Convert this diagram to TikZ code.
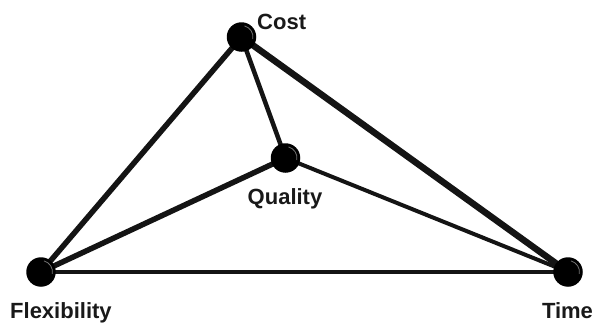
\documentclass[tikz,border=0pt]{standalone}
\usepackage{fontspec}
\setmainfont{Liberation Sans}
\usetikzlibrary{backgrounds}
\tikzset{
  ball/.style={circle, fill=black, minimum size=29.5pt, inner sep=0pt, draw=none},
  lbl/.style={font=\fontsize{22}{24}\selectfont\bfseries, inner sep=0pt, text=black!90},
  edge/.style={draw=black!92, line cap=round},
}
\begin{document}
\begin{tikzpicture}[x=1pt,y=-1pt]
\useasboundingbox (0,0) rectangle (598,324);
\node[ball] (cost) at (241.5,37) {};
\node[ball] (qual) at (285.5,158) {};
\node[ball] (flex) at (41,272) {};
\node[ball] (time) at (568,272) {};
\foreach \n in {cost,qual,flex,time}{
  \draw[black!55, line width=0.8pt] (\n.center) ++(-75:11.5) arc[start angle=-75, end angle=10, radius=11.5];
}
\node[lbl, anchor=base west] (costl) at (257,29) {Cost};
\node[lbl, anchor=base] (quall) at (285,204) {Quality};
\node[lbl, anchor=base west] (flexl) at (10,318) {Flexibility};
\node[lbl, anchor=base] (timel) at (567.5,318) {Time};
\begin{scope}[on background layer]
\draw[edge, line width=6.5pt] (cost.center) -- (time.center);
\draw[edge, line width=5.5pt] (cost.center) -- (flex.center);
\draw[edge, line width=4.5pt] (cost.center) -- (qual.center);
\draw[edge, line width=5.5pt] (qual.center) -- (flex.center);
\draw[edge, line width=4pt] (qual.center) -- (time.center);
\draw[edge, line width=4.5pt] (flex.center) -- (time.center);
\end{scope}
\end{tikzpicture}
\end{document}
